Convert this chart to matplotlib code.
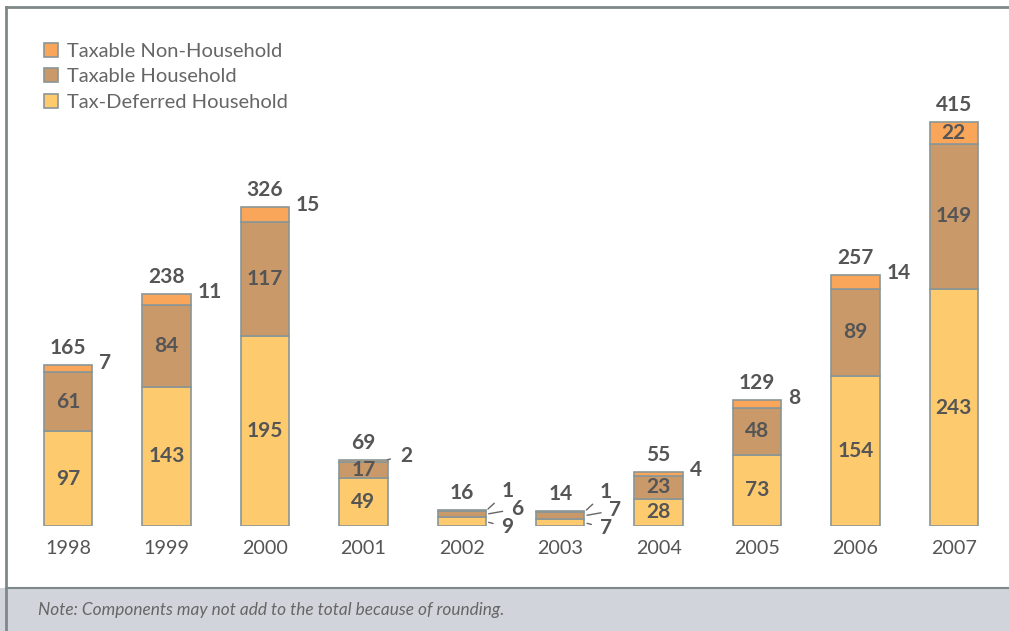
import matplotlib
matplotlib.use("Agg")
import matplotlib.pyplot as plt
from matplotlib.patches import Rectangle
from matplotlib.lines import Line2D

# Data (billions of dollars)
years = ["1998", "1999", "2000", "2001", "2002", "2003", "2004", "2005", "2006", "2007"]
tax_deferred = [97, 143, 195, 49, 9, 7, 28, 73, 154, 243]
taxable_household = [61, 84, 117, 17, 6, 7, 23, 48, 89, 149]
taxable_nonhousehold = [7, 11, 15, 2, 1, 1, 4, 8, 14, 22]
totals = [165, 238, 326, 69, 16, 14, 55, 129, 257, 415]

series_names = ["Taxable Non-Household", "Taxable Household", "Tax-Deferred Household"]
note_text = "Note: Components may not add to the total because of rounding."

c_nonhh = "#F9A65A"
c_hh = "#C9996A"
c_def = "#FDCB6E"
edge = "#8A9696"
txt = "#555555"

plt.rcParams["font.family"] = ["Lato", "DejaVu Sans"]

W, H = 1009, 631
fig = plt.figure(figsize=(W / 100, H / 100), dpi=100)

# outer frame and note band
fig.add_artist(Rectangle((0, 0), 1, 43 / H, transform=fig.transFigure,
                         facecolor="#D1D4DA", edgecolor="none"))
fig.add_artist(Line2D([6 / W, 1], [1 - 7 / H, 1 - 7 / H], transform=fig.transFigure,
                      color="#7E8888", lw=2))
fig.add_artist(Line2D([6 / W, 6 / W], [0, 1 - 7 / H], transform=fig.transFigure,
                      color="#7E8888", lw=2))
fig.add_artist(Line2D([6 / W, 1], [43 / H, 43 / H], transform=fig.transFigure,
                      color="#7E8888", lw=1.5))
fig.text(38 / W, 21 / H, note_text, fontsize=12.4, style="italic", color="#666666",
         va="center", ha="left")

ax = fig.add_axes([19 / W, 105 / H, 984 / W, 466 / H])
ax.set_xlim(-0.5, len(years) - 0.5)
ax.set_ylim(0, 466 / 0.975)
for s in ax.spines.values():
    s.set_visible(False)
ax.set_yticks([])

x = list(range(len(years)))
bw = 0.49
b1 = ax.bar(x, tax_deferred, bw, color=c_def, edgecolor=edge, lw=1.2,
            label=series_names[2])
bottom2 = tax_deferred
b2 = ax.bar(x, taxable_household, bw, bottom=bottom2, color=c_hh, edgecolor=edge,
            lw=1.2, label=series_names[1])
bottom3 = [a + b for a, b in zip(tax_deferred, taxable_household)]
b3 = ax.bar(x, taxable_nonhousehold, bw, bottom=bottom3, color=c_nonhh,
            edgecolor=edge, lw=1.2, label=series_names[0])

ax.set_xticks(x)
ax.set_xticklabels(years, fontsize=14.2, color="#555555")
ax.tick_params(axis="x", length=0, pad=10)

bold = dict(fontsize=15, fontweight="bold", color=txt)
tops = [a + b for a, b in zip(bottom3, taxable_nonhousehold)]

for i in range(len(years)):
    # total above the bar
    ax.annotate(str(totals[i]), (i, tops[i]), xytext=(0, 8), textcoords="offset points",
                ha="center", va="baseline", **bold)
    d, h, n = tax_deferred[i], taxable_household[i], taxable_nonhousehold[i]
    if d >= 20:
        ax.text(i, d / 2, str(d), ha="center", va="center", **bold)
    if h >= 15:
        ax.text(i, d + h / 2, str(h), ha="center", va="center", **bold)
    right = i + bw / 2
    if n >= 20:
        ax.text(i, bottom3[i] + n / 2, str(n), ha="center", va="center", **bold)
    elif d >= 20:
        if n >= 4 and i != 3:
            ax.annotate(str(n), (right, tops[i]), xytext=(5, 1.5), textcoords="offset points",
                        ha="left", va="center", **bold)
        else:
            ax.annotate(str(n), (right, tops[i]), xytext=(9, 3), textcoords="offset points",
                        ha="left", va="center", **bold,
                        arrowprops=dict(arrowstyle="-", color="#666666", lw=1,
                                        shrinkA=5, shrinkB=3))

# small bars: leader lines to every component
for i in range(len(years)):
    d, h, n = tax_deferred[i], taxable_household[i], taxable_nonhousehold[i]
    if d >= 20:
        continue
    right = i + bw / 2
    lp = dict(arrowstyle="-", color="#666666", lw=1, shrinkA=4, shrinkB=2)
    ax.annotate(str(n), (right, tops[i] - 0.5), xytext=(11, 14), textcoords="offset points",
                ha="left", va="center", **bold, arrowprops=lp)
    ax.annotate(str(h), (right, d + h / 2), xytext=(18, 4), textcoords="offset points",
                ha="left", va="center", **bold, arrowprops=lp)
    ax.annotate(str(d), (right, d / 2), xytext=(11, -4), textcoords="offset points",
                ha="left", va="center", **bold, arrowprops=lp)

handles = [b3, b2, b1]
leg = fig.legend(handles, series_names, loc="upper left",
                 bbox_to_anchor=(44 / W, 1 - 43 / H), frameon=False, fontsize=14.5,
                 handlelength=0.68, handleheight=0.68, handletextpad=0.45,
                 labelspacing=0.42, borderaxespad=0, borderpad=0)
for t in leg.get_texts():
    t.set_color("#666666")

fig.savefig("out.png", dpi=100)
